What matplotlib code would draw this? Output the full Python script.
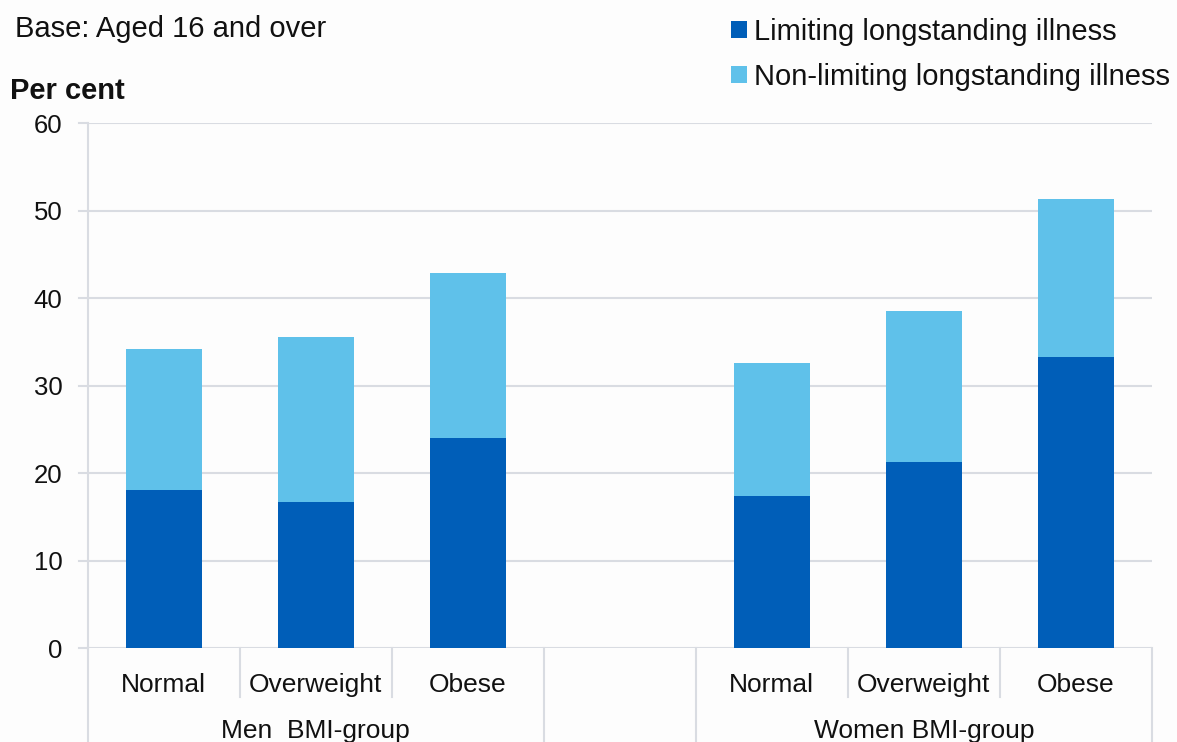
import matplotlib
matplotlib.use("Agg")
import matplotlib.pyplot as plt
from matplotlib.transforms import blended_transform_factory

plt.rcParams['font.family'] = ['Liberation Sans', 'DejaVu Sans']

# Data: per cent with longstanding illness, by sex and BMI group
bmi_groups = ["Normal", "Overweight", "Obese"]
sexes = ["Men  BMI-group", "Women BMI-group"]
men_limiting = [18.1, 16.7, 24.0]
men_nonlimiting = [16.1, 18.9, 18.9]
women_limiting = [17.4, 21.3, 33.3]
women_nonlimiting = [15.2, 17.3, 18.0]
y_ticks = [0, 10, 20, 30, 40, 50, 60]

series_names = ["Limiting longstanding illness", "Non-limiting longstanding illness"]
col_limiting = "#005EB8"
col_nonlimiting = "#5FC1EA"
grid_col = "#D9DCE2"
text_col = "#111111"

W, H = 1177, 742
fig = plt.figure(figsize=(W / 100, H / 100), dpi=100)
fig.patch.set_facecolor("#FDFDFD")
ax = fig.add_axes([87.5 / W, 1 - 648.3 / H, (1152 - 87.5) / W, (648.3 - 123.3) / H])
ax.set_facecolor("#FDFDFD")

# Men in slots 0-2, empty slot 3, women in slots 4-6
men_x = [0, 1, 2]
women_x = [4, 5, 6]
bw = 0.5
ax.bar(men_x, men_limiting, bw, color=col_limiting, label=series_names[0], zorder=3)
ax.bar(men_x, men_nonlimiting, bw, bottom=men_limiting, color=col_nonlimiting,
       label=series_names[1], zorder=3)
ax.bar(women_x, women_limiting, bw, color=col_limiting, zorder=3)
ax.bar(women_x, women_nonlimiting, bw, bottom=women_limiting, color=col_nonlimiting, zorder=3)

ax.set_xlim(-0.5, 6.5)
ax.set_ylim(0, 60)
ax.set_yticks(y_ticks)
ax.set_yticklabels([str(v) for v in y_ticks], fontsize=18.5, color=text_col)
ax.tick_params(axis="y", length=0, pad=18)
ax.set_xticks([])
ax.yaxis.grid(True, color=grid_col, linewidth=1.5, zorder=0)
for s in ["top", "right", "bottom", "left"]:
    ax.spines[s].set_visible(False)

# gridline stubs extending left of the value axis
trans_yd = blended_transform_factory(fig.transFigure, ax.transData)
for v in y_ticks:
    ax.plot([79 / W, 87.5 / W], [v, v], color=grid_col, lw=1.5, transform=trans_yd, clip_on=False)

# category axis structure below the plot
tr = ax.get_xaxis_transform()
ax_h = 648.3 - 123.3
short_end = -(697 - 648.3) / ax_h
long_end = -0.25
for xs in [0.5, 1.5, 4.5, 5.5]:
    ax.plot([xs, xs], [0, short_end], color=grid_col, lw=1.5, transform=tr, clip_on=False)
for xs in [-0.5, 2.5, 3.5, 6.5]:
    ax.plot([xs, xs], [0, long_end], color=grid_col, lw=1.5, transform=tr, clip_on=False)
ax.plot([-0.5, -0.5], [0, 1], color=grid_col, lw=1.5, transform=tr, clip_on=False)

sub_y = -(692 - 648.3) / ax_h
grp_y = -(738 - 648.3) / ax_h
for xs, lab in zip(men_x + women_x, bmi_groups + bmi_groups):
    ax.text(xs, sub_y, lab, transform=tr, ha="center", va="baseline", fontsize=19, color=text_col)
ax.text(1, grp_y, sexes[0], transform=tr, ha="center", va="baseline", fontsize=19, color=text_col)
ax.text(5, grp_y, sexes[1], transform=tr, ha="center", va="baseline", fontsize=19, color=text_col)

# titles
fig.text(15 / W, 1 - 37 / H, "Base: Aged 16 and over", fontsize=21, color=text_col, va="baseline")
fig.text(10 / W, 1 - 99 / H, "Per cent", fontsize=21, fontweight="bold", color=text_col, va="baseline")

# legend
leg = fig.legend(loc="upper left", bbox_to_anchor=(731 / W, 1 - 18 / H), frameon=False,
                 fontsize=21, handlelength=0.54, handleheight=0.54, handletextpad=0.26,
                 labelspacing=0.58, borderpad=0, borderaxespad=0)
for t in leg.get_texts():
    t.set_color(text_col)

fig.savefig("out.png", dpi=100, facecolor=fig.get_facecolor())
